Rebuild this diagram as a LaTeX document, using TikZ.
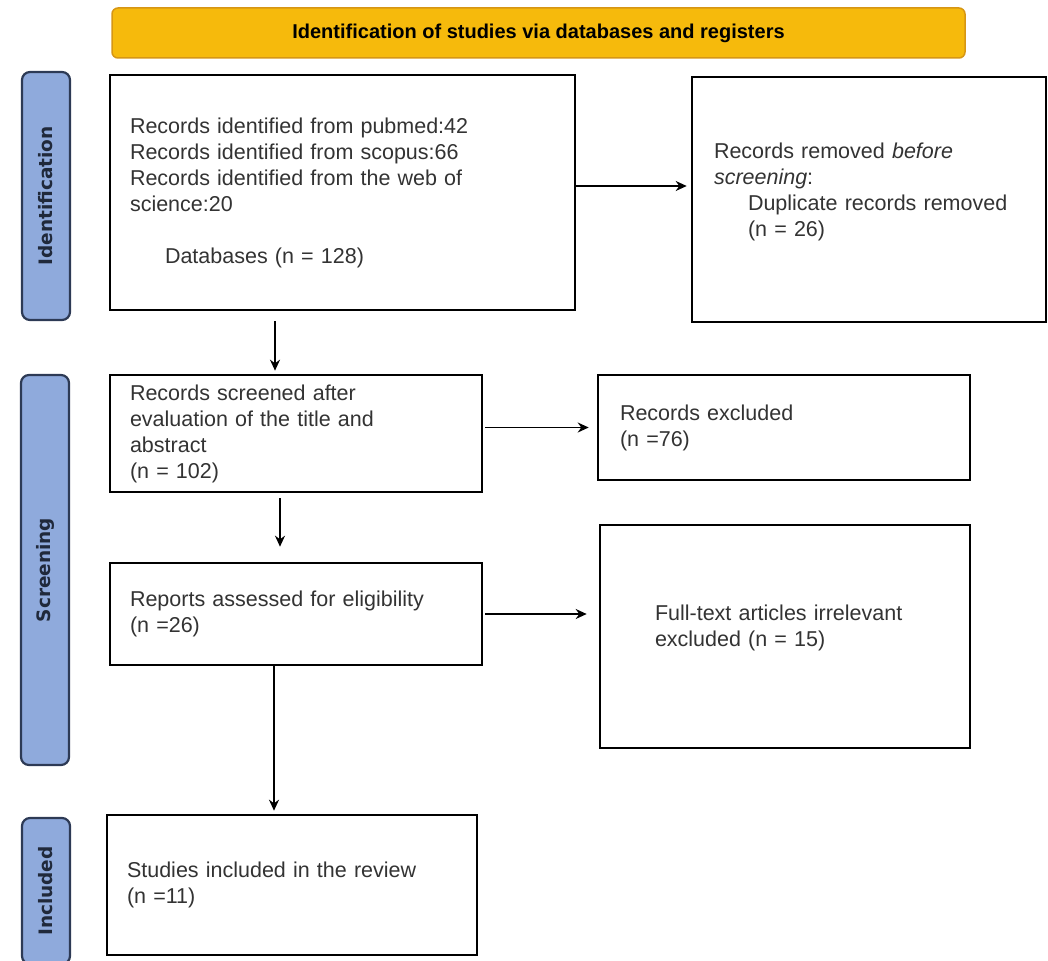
\documentclass[tikz,border=0pt]{standalone}
\usepackage{fontspec}
\setmainfont{Liberation Sans}
\newfontfamily\phasefont{DejaVu Sans}
\usetikzlibrary{shapes.geometric, arrows.meta}
\definecolor{bannerfill}{RGB}{246,186,12}
\definecolor{bannerline}{RGB}{214,150,20}
\definecolor{phasefill}{RGB}{143,170,220}
\definecolor{phaseline}{RGB}{45,58,85}
\tikzstyle{banner} = [rectangle, rounded corners=6pt, minimum width=853pt, minimum height=50pt, text centered, draw=bannerline, line width=1.5pt, fill=bannerfill, font=\fontsize{20}{24}\selectfont\bfseries]
\tikzstyle{phase} = [rectangle, rounded corners=8pt, rotate=90, minimum height=48pt, text centered, draw=phaseline, line width=2.2pt, fill=phasefill, text=phaseline!70!black, font=\phasefont\fontsize{18.5}{22}\selectfont\bfseries]
\tikzstyle{process} = [rectangle, draw=black, line width=2.6pt, fill=white, align=left, text=black!80, inner ysep=0pt, font=\fontsize{21.5}{26}\selectfont]
\tikzstyle{arrow} = [line width=1.8pt,-{Stealth[length=11pt,width=10pt]}]

\begin{document}
\begin{tikzpicture}[x=1pt, y=-1pt]
\useasboundingbox (0,0) rectangle (1048,960);

\node (banner) [banner] at (538.5,33) {Identification of studies via databases and registers};

\node (ident) [phase, minimum width=248pt] at (46,196) {Identification};
\node (screen) [phase, minimum width=390pt] at (45,570) {Screening};
\node (incl) [phase, minimum width=146pt] at (46,891) {Included};

\node (db) [process, minimum height=235pt, text width=425pt, inner xsep=20pt] at (342.5,192.5) {Records identified from pubmed:42\\ Records identified from scopus:66\\ Records identified from the web of\\ science:20\\[26pt] \hspace*{35pt}Databases (n = 128)};
\node (removed) [process, minimum height=245pt, text width=310pt, inner xsep=22pt] at (869,199.5) {Records removed \textit{before}\\ \textit{screening}:\\ \hspace*{34pt}Duplicate records removed\\ \hspace*{34pt}(n = 26)\\[-6pt]\mbox{}};
\node (screened) [process, minimum height=117pt, text width=332pt, inner xsep=20pt] at (296,433.5) {Records screened after\\ evaluation of the title and\\ abstract\\ (n = 102)};
\node (excluded) [process, minimum height=105pt, text width=328pt, inner xsep=22pt] at (784,427.5) {Records excluded\\ (n =76)};
\node (assessed) [process, minimum height=102pt, text width=332pt, inner xsep=20pt] at (296,614) {Reports assessed for eligibility\\ (n =26)};
\node (fulltext) [process, minimum height=223pt, text width=260pt, inner xsep=55pt] at (785,636.5) {Full-text articles irrelevant\\ excluded (n = 15)\\[-4pt]\mbox{}};
\node (studies) [process, minimum height=140pt, text width=330pt, inner xsep=20pt] at (292,885) {Studies included in the review\\ (n =11)};

\draw [arrow, shorten >=4pt] ([yshift=6.5pt]db.east) -- ([yshift=6.5pt]db.east -| removed.west);
\draw [arrow, shorten <=10pt, shorten >=3pt] ([xshift=-67.5pt]db.south) -- ([xshift=-21pt]screened.north);
\draw [arrow, shorten <=2pt, shorten >=8pt] (screened.east |- excluded) -- (excluded.west);
\draw [arrow, shorten <=5pt, shorten >=15pt] ([xshift=-16pt]screened.south) -- ([xshift=-16pt]assessed.north);
\draw [arrow, shorten <=2pt, shorten >=12pt] (assessed.east) -- (assessed.east -| fulltext.west);
\draw [arrow, shorten >=3pt] ([xshift=-22pt]assessed.south) -- ([xshift=-18pt]studies.north);

\end{tikzpicture}
\end{document}
